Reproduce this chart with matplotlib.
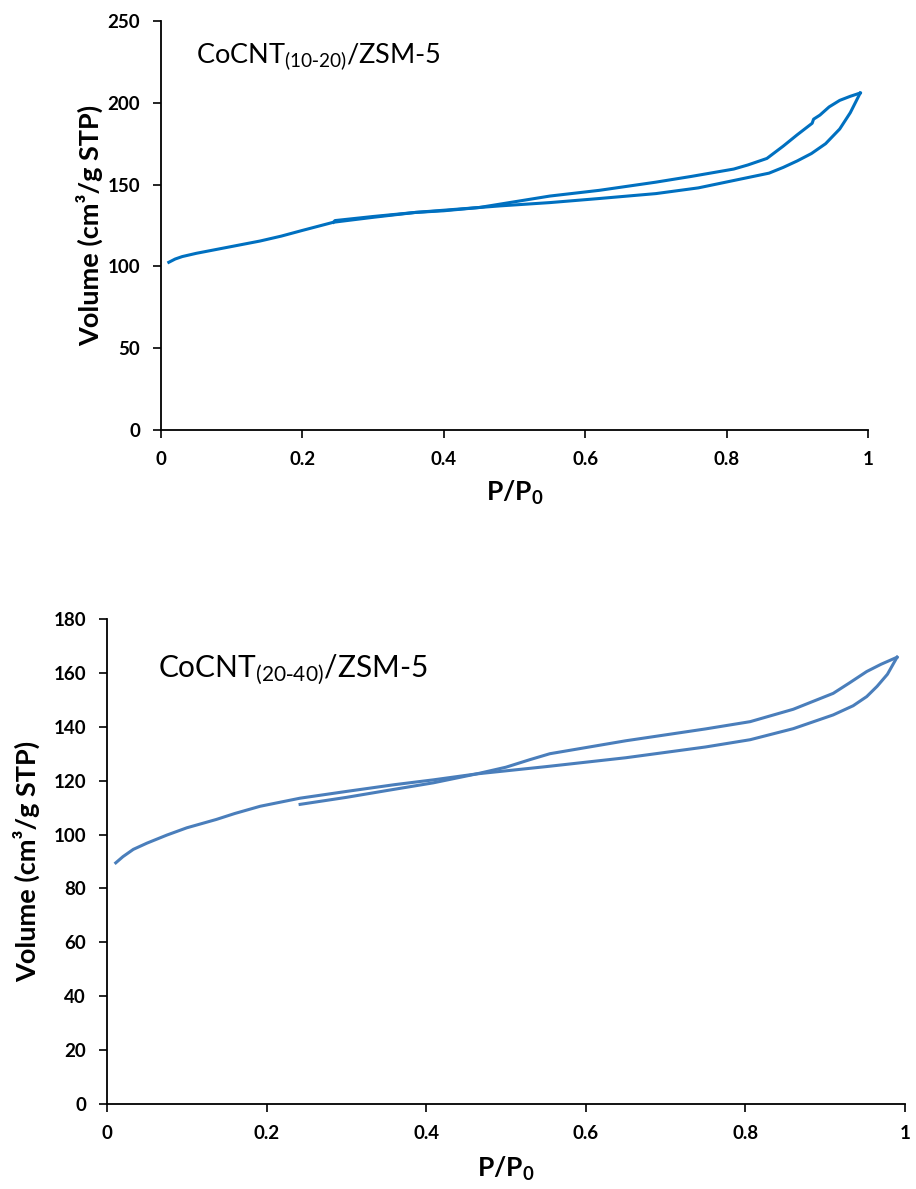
import matplotlib.pyplot as plt

plt.rcParams['font.family'] = ['Lato', 'DejaVu Sans']
plt.rcParams['mathtext.default'] = 'regular'

# CoCNT(10-20)/ZSM-5
p_ads_1 = [0.011, 0.02, 0.03, 0.05, 0.08, 0.11, 0.14, 0.17, 0.2, 0.244, 0.3, 0.36, 0.42,
           0.48, 0.55, 0.62, 0.7, 0.76, 0.81, 0.86, 0.88, 0.9, 0.92, 0.94, 0.96, 0.975, 0.989]
v_ads_1 = [102.5, 104.5, 106, 108, 110.5, 113, 115.5, 118.5, 122, 127, 130, 133, 135,
           137, 139, 141.5, 144.5, 148, 152.5, 157, 160.5, 164.5, 169, 175, 184, 194, 206]
p_des_1 = [0.989, 0.975, 0.96, 0.945, 0.932, 0.923, 0.921, 0.9, 0.88, 0.857, 0.83, 0.81,
           0.75, 0.7, 0.62, 0.55, 0.5, 0.45, 0.4, 0.36, 0.3, 0.246, 0.244]
v_des_1 = [206, 204, 201.5, 197.5, 192.5, 190, 187.5, 180.5, 173.5, 166, 162, 159.5,
           155, 151.5, 146.5, 143, 139.5, 136, 134, 133, 130.5, 128, 127]

# CoCNT(20-40)/ZSM-5
p_ads_2 = [0.011, 0.02, 0.033, 0.05, 0.075, 0.1, 0.137, 0.16, 0.192, 0.242, 0.3, 0.36,
           0.409, 0.463, 0.55, 0.65, 0.75, 0.806, 0.86, 0.91, 0.935, 0.952, 0.965, 0.978, 0.99]
v_ads_2 = [89.5, 91.8, 94.5, 96.8, 99.8, 102.5, 105.6, 107.8, 110.5, 113.5, 116, 118.5,
           120.3, 122.5, 125.2, 128.5, 132.5, 135.2, 139.3, 144.4, 147.8, 151.2, 155, 159.5, 165.8]
p_des_2 = [0.99, 0.97, 0.952, 0.93, 0.91, 0.86, 0.806, 0.75, 0.65, 0.555, 0.53, 0.5,
           0.463, 0.409, 0.35, 0.3, 0.242]
v_des_2 = [165.8, 163.2, 160.5, 156.2, 152.4, 146.5, 141.9, 139.2, 134.8, 130, 127.8, 125,
           122.5, 119.2, 116.3, 113.8, 111.2]

fig = plt.figure(figsize=(9.16, 11.89), dpi=100)


def style(ax, ymax, ystep):
    ax.spines['top'].set_visible(False)
    ax.spines['right'].set_visible(False)
    for s in ('left', 'bottom'):
        ax.spines[s].set_linewidth(1.3)
    ax.set_xlim(0, 1)
    ax.set_ylim(0, ymax)
    ax.set_xticks([0, 0.2, 0.4, 0.6, 0.8, 1])
    ax.set_xticklabels(['0', '0.2', '0.4', '0.6', '0.8', '1'])
    ax.set_yticks(range(0, ymax + 1, ystep))
    ax.tick_params(direction='out', length=6, width=1.2, labelsize=13.5, pad=9)
    for lbl in ax.get_xticklabels() + ax.get_yticklabels():
        lbl.set_fontweight('bold')
    ax.set_ylabel('Volume (cm³/g STP)', fontsize=19.5, fontweight='bold')
    ax.set_xlabel('P/P$_0$', fontsize=19, fontweight='bold')


ax1 = fig.add_axes([0.1758, 0.6384, 0.7718, 0.3439])
ax1.plot(p_ads_1, v_ads_1, color='#0070C0', lw=2.2)
ax1.plot(p_des_1, v_des_1, color='#0070C0', lw=2.2)
style(ax1, 250, 50)
ax1.text(0.05, 228, r'CoCNT$_{(10\text{-}20)}$/ZSM-5', fontsize=19.5, va='center')
ax1.yaxis.set_label_coords(-0.082, 0.5)
ax1.xaxis.set_label_coords(0.5, -0.12)

ax2 = fig.add_axes([0.1168, 0.0715, 0.8712, 0.4079])
ax2.plot(p_ads_2, v_ads_2, color='#4A7EBB', lw=2.2)
ax2.plot(p_des_2, v_des_2, color='#4A7EBB', lw=2.2)
style(ax2, 180, 20)
ax2.text(0.064, 161, r'CoCNT$_{(20\text{-}40)}$/ZSM-5', fontsize=21.5, va='center')
ax2.yaxis.set_label_coords(-0.084, 0.5)
ax2.xaxis.set_label_coords(0.5, -0.105)

fig.savefig('out.png', dpi=100)
